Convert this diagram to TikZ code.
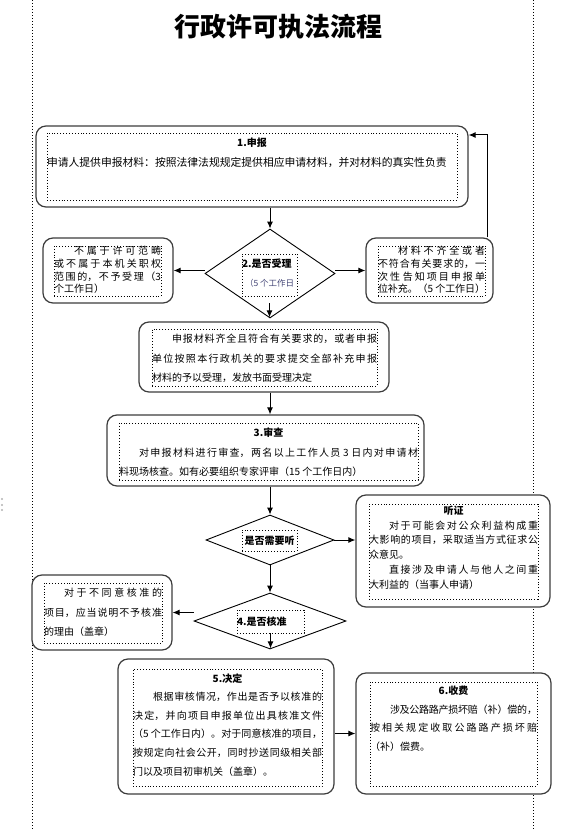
\documentclass[tikz,border=0pt]{standalone}
\usepackage{fontspec}
\setmainfont{Noto Sans CJK SC}
\usepackage{xcolor}
\usetikzlibrary{shapes.geometric,arrows.meta,positioning,calc}
\definecolor{boxgray}{RGB}{60, 60, 60}
\definecolor{notegray}{RGB}{70, 72, 120}

% text block of a box: width, height, line distance, text
\newcommand{\boxtxt}[4]{%
  \parbox[c][#2][t]{#1}{\fontsize{10}{#3}\selectfont
    \XeTeXlinebreaklocale "zh"\XeTeXlinebreakskip=0pt plus 4pt minus 1.5pt\relax
    #4}}

\begin{document}
\begin{tikzpicture}[x=1pt, y=-1pt, >={Latex[length=7pt,width=6pt]},
    box/.style={draw=boxgray, line width=1.2pt, rounded corners=10pt, fill=white, inner sep=0pt},
    inbox/.style={draw, dotted, line width=0.9pt, inner sep=0pt},
    dec/.style={diamond, draw, line width=0.9pt, fill=white, inner sep=0pt},
    arr/.style={->, line width=1pt}]
        \useasboundingbox (0,0) rectangle (571,829);
        % page margins
        \draw[dotted, line width=1pt] (32,0) -- (32,829);
        \draw[dotted, line width=1pt] (533,0) -- (533,829);
        \foreach \y in {499,505,510}
            \fill[gray!60] (2,\y) circle (1.1pt);

        % Title
        \node[font=\fontsize{26}{30}\selectfont\bfseries] (title) at (278,27) {行政许可执法流程};

        % Step 1: application
        \node[box, minimum width=432pt, minimum height=81pt] (b1) at (252,166.5) {};
        \node[inbox] (b1t) at (252,166.5) {\boxtxt{410pt}{67pt}{20pt}{%
            \centerline{\strut\bfseries 1.申报}
            {\fontsize{10.8}{20}\selectfont 申请人提供申报材料：按照法律法规规定提供相应申请材料，并对材料的真实性负责}}};

        % Step 2: acceptance
        \node[dec, minimum width=130pt, minimum height=89pt] (d2) at (270,273.5) {};
        \node[inbox] (d2t) at (269.5,275) {\boxtxt{55pt}{42pt}{19pt}{%
            \strut\textbf{2.是否受理}\par
            \hspace*{3pt}{\fontsize{8.5}{19}\selectfont\color{notegray}（5 个工作日}}};

        \node[box, minimum width=130pt, minimum height=65pt] (l2) at (108,270.5) {};
        \node[inbox] (l2t) at (107.5,271) {\boxtxt{107pt}{50pt}{12.7pt}{%
            \strut\hspace*{2em}不属于许可范畴\linebreak
            或不属于本机关职权\linebreak
            范围的，不予受理（3\linebreak
            个工作日）}};

        \node[box, minimum width=127pt, minimum height=65pt] (r2) at (429.5,270.5) {};
        \node[inbox] (r2t) at (431.5,271) {\boxtxt{107pt}{50pt}{12.7pt}{%
            \strut\hspace*{2em}材料不齐全或者\linebreak
            不符合有关要求的，一\linebreak
            次性 告知项目申报单\linebreak
            位补充。（5 个工作日）}};

        \node[box, minimum width=250pt, minimum height=70pt] (acc) at (264,357) {};
        \node[inbox] (acct) at (264.5,357.5) {\boxtxt{225pt}{57pt}{19.5pt}{%
            \strut\hspace*{2em}申报材料齐全且符合有关要求的，或者申报\linebreak
            单位按照本行政机关的要求提交全部补充申报\linebreak
            材料的予以受理，发放书面受理决定}};

        % Step 3: examination
        \node[box, minimum width=317pt, minimum height=71pt] (b3) at (265.5,450.5) {};
        \node[inbox] (b3t) at (268.5,451.5) {\boxtxt{299pt}{57pt}{19.5pt}{%
            \centerline{\strut\bfseries 3.审查}
            \hspace*{2em}对申报材料进行审查，两名以上工作人员 3 日内对申请材\linebreak
            料现场核查。如有必要组织专家评审（15 个工作日内）}};

        % Hearing
        \node[dec, minimum width=128pt, minimum height=50pt] (d3) at (270,540) {};
        \node[inbox, minimum width=55pt, minimum height=21pt, font=\fontsize{10}{12}\selectfont\bfseries] (d3t) at (269.5,540.5) {是否需要听};

        \node[box, minimum width=194pt, minimum height=112pt] (h3) at (453,551) {};
        \node[inbox] (h3t) at (453.5,551.5) {\boxtxt{169pt}{95pt}{14.8pt}{%
            \centerline{\strut\bfseries 听证}
            \hspace*{2em}对于可能会对公众利益构成重\linebreak
            大影响的项目，采取适当方式征求公\linebreak
            众意见。\par
            \hspace*{2em}直接涉及申请人与他人之间重\linebreak
            大利益的（当事人申请）}};

        % Step 4: approval
        \node[dec, minimum width=152pt, minimum height=56pt] (d4) at (270,621) {};
        \node[inbox, minimum width=67pt, minimum height=23pt] (d4t) at (270.5,621.5) {\makebox[67pt][l]{\fontsize{10}{12}\selectfont\bfseries 4.是否核准}};

        \node[box, minimum width=140pt, minimum height=75pt] (l4) at (102,612.5) {};
        \node[inbox] (l4t) at (103,613) {\boxtxt{118pt}{60pt}{19.5pt}{%
            \strut\hspace*{2em}对于不同意核准的\linebreak
            项目，应当说明不予核准\linebreak
            的理由（盖章）}};

        % Step 5: decision
        \node[box, minimum width=216pt, minimum height=135pt] (b5) at (226,726.5) {};
        \node[inbox] (b5t) at (227.5,727.5) {\boxtxt{189pt}{117pt}{18.6pt}{%
            \centerline{\strut\bfseries 5.决定}
            \hspace*{2em}根据审核情况，作出是否予以核准的\linebreak
            决定，并向项目申报单位出具核准文件\linebreak
            （5 个工作日内）。对于同意核准的项目，\linebreak
            按规定向社会公开，同时抄送同级相关部\linebreak
            门以及项目初审机关（盖章）。}};

        % Step 6: fees
        \node[box, minimum width=195pt, minimum height=121pt] (b6) at (453.5,733.5) {};
        \node[inbox] (b6t) at (453.5,734) {\boxtxt{167pt}{104pt}{18.5pt}{%
            \centerline{\strut\bfseries 6.收费}
            \hspace*{2em}涉及公路路产损坏赔（补）偿的，\linebreak
            按相关规定收取公路路产损坏赔\linebreak
            （补）偿费。}};

        % Connectors
        \coordinate (fb) at (487,135);
        \draw[arr] (b1.south -| d2.north) -- (d2.north);
        \draw[arr] (d2.west |- l2.east) -- (l2.east);
        \draw[arr] (d2.east |- r2.west) -- (r2.west);
        \draw[arr] (r2.north -| fb) -- (fb) -- (fb -| b1.east);
        \draw[arr, shorten <=7pt, shorten >=4pt] (d2t.south) -- (d2t.south |- acc.north);
        \draw[arr] (acc.south -| d2.south) -- (b3.north -| d2.south);
        \draw[arr] (b3.south -| d3.north) -- (d3.north);
        \draw[arr] (d3.east) -- (d3.east -| h3.west);
        \draw[arr] (d3.south) -- (d4.north);
        \draw[arr] (d4.west |- l4.east) -- (l4.east);
        \draw[arr, shorten >=10pt] (d4t.south) -- (d4t.south |- b5.north);
        \draw[arr] (b5.east |- b6.west) -- (b6.west);
\end{tikzpicture}
\end{document}
